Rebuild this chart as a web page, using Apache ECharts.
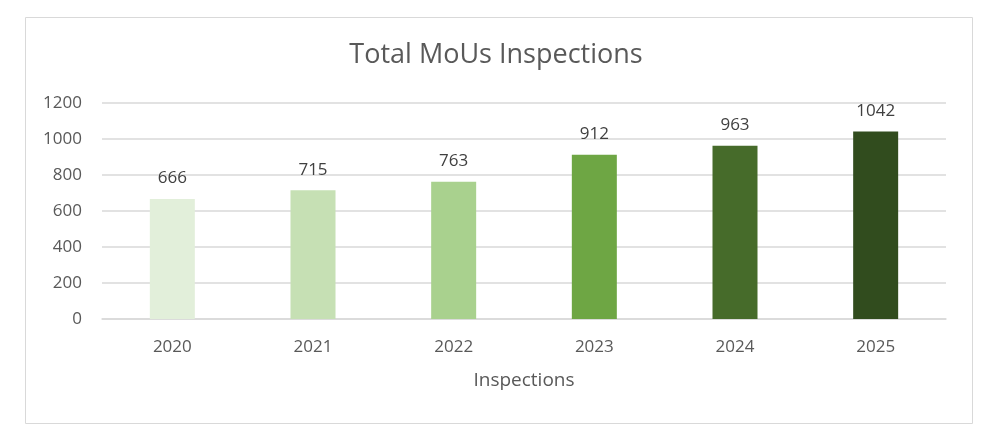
<!DOCTYPE html>
<html><head><meta charset="utf-8">
<script src="https://cdn.jsdelivr.net/npm/echarts@6/dist/echarts.min.js"></script>
<style>html,body{margin:0;padding:0;background:#fff}#c{width:992px;height:441px}</style>
</head><body><div id="c"></div>
<script>
const categories = ['2020','2021','2022','2023','2024','2025'];
const values = [666, 715, 763, 912, 963, 1042];
const barColors = ['#E2EFDA','#C6E0B4','#A9D18E','#6EA644','#466B2A','#314C1E'];
const yTicks = {min: 0, max: 1200, interval: 200};

const chart = echarts.init(document.getElementById('c'));
const font = 'Open Sans, Liberation Sans, sans-serif';
chart.setOption({
  animation: false,
  title: {text: 'Total MoUs Inspections', left: 'center', top: 37,
    textStyle: {fontFamily: font, fontSize: 27, fontWeight: 'normal', color: '#595959'}},
  graphic: [{type: 'rect', shape: {x: 25.5, y: 17.5, width: 947, height: 406},
    style: {fill: 'none', stroke: '#D9D9D9', lineWidth: 1}, silent: true}],
  grid: {left: 102, right: 46, top: 103, bottom: 122, containLabel: false},
  xAxis: {type: 'category', data: categories,
    name: 'Inspections', nameLocation: 'middle', nameGap: 52,
    nameTextStyle: {fontFamily: font, fontSize: 19, color: '#595959'},
    axisLine: {lineStyle: {color: '#D9D9D9', width: 1.5}}, axisTick: {show: false},
    axisLabel: {fontFamily: font, fontSize: 17, color: '#595959', margin: 20}},
  yAxis: {type: 'value', min: yTicks.min, max: yTicks.max, interval: yTicks.interval,
    axisLine: {show: false}, axisTick: {show: false},
    splitLine: {lineStyle: {color: '#D9D9D9', width: 1.5}},
    axisLabel: {fontFamily: font, fontSize: 17, color: '#595959', margin: 20, formatter: v => String(v)}},
  series: [{type: 'bar', barWidth: 45,
    data: values.map((v, i) => ({value: v, itemStyle: {color: barColors[i]}})),
    label: {show: true, position: 'top', distance: 12, fontFamily: font, fontSize: 17, color: '#404040'}}]
});
</script></body></html>
